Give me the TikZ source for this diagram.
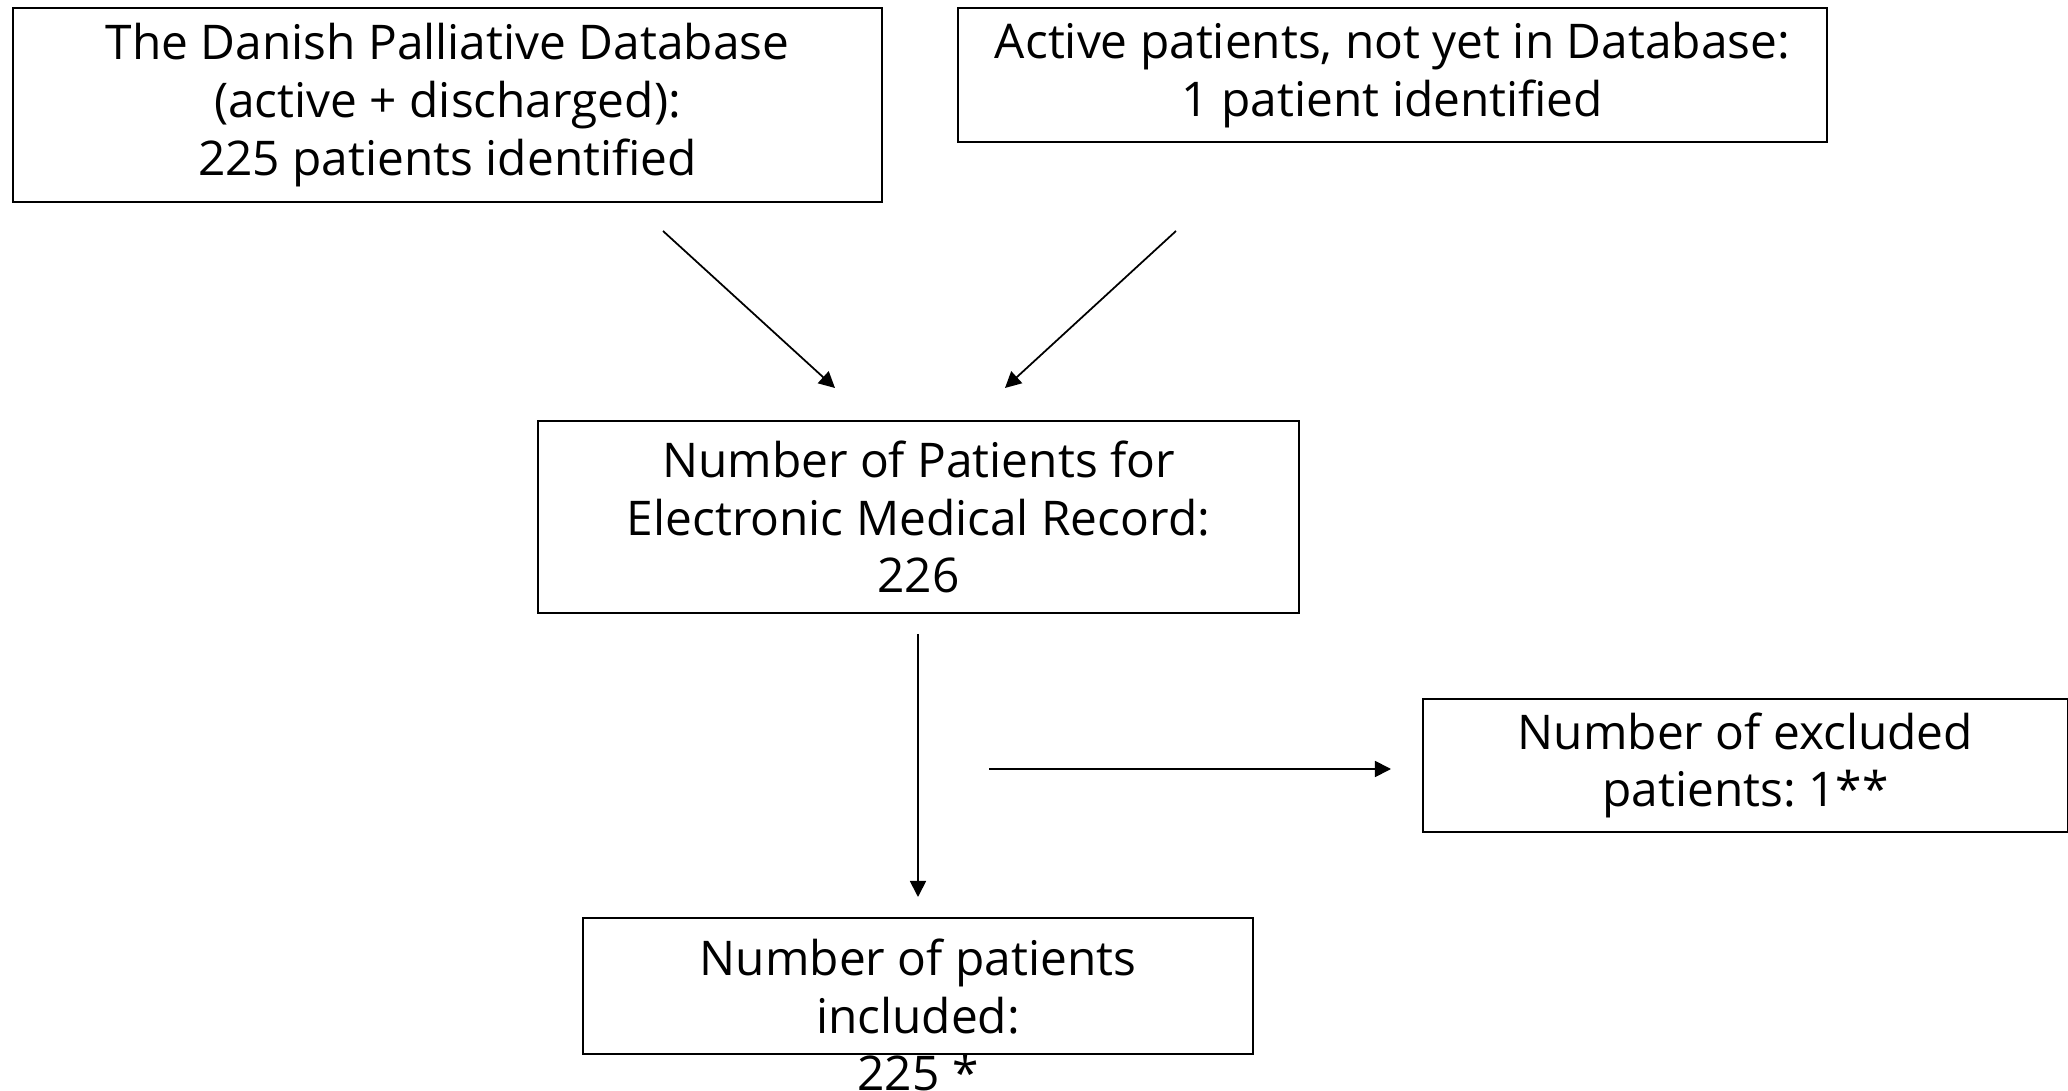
\documentclass[tikz,border=0pt]{standalone}
\usepackage{fontspec}
\setmainfont{Open Sans}
\frenchspacing
\usetikzlibrary{arrows.meta}
\begin{document}
\begin{tikzpicture}[x=0.01cm,y=-0.01cm,
	box/.style={draw,line width=0.6pt,inner sep=0pt,align=center,font=\fontsize{13.6}{16.4}\selectfont},
	txt/.style={inner sep=0pt,align=center,font=\fontsize{13.6}{16.4}\selectfont},
	flow/.style={line width=0.5pt,-{Triangle[length=0.16cm,width=0.16cm]}}]
	
	\useasboundingbox (0,0) rectangle (2068,1091);
	
	\node[box,minimum width=8.69cm,minimum height=1.94cm] (db) at (447.5,105) {The Danish Palliative Database\\(active + discharged):\\225 patients identified};
	\node[box,minimum width=8.69cm,minimum height=1.34cm] (active) at (1392.5,75) {Active patients, not yet in Database:\\1 patient identified};
	\node[box,minimum width=7.61cm,minimum height=1.92cm] (emr) at (918.5,517) {Number of Patients for\\Electronic Medical Record:\\226};
	\node[box,minimum width=6.45cm,minimum height=1.33cm] (excl) at (1745.5,765.5) {Number of excluded\\patients: 1**};
	\node[box,minimum width=6.70cm,minimum height=1.36cm] (incl) at (918,986) {};
	\node[txt] (incltxt) at (918,1015) {Number of patients\\included:\\225 *};
	
	\coordinate (a1s) at (663,231);
	\coordinate (a1e) at (835,388);
	\coordinate (a2s) at (1176,231);
	\coordinate (a2e) at (1005,388);
	\coordinate (a3s) at (918,634);
	\coordinate (a3e) at (918,897);
	\coordinate (a4s) at (989,769);
	\coordinate (a4e) at (1391,769);
	
	\draw[flow] (a1s)--(a1e);
	\draw[flow] (a2s)--(a2e);
	\draw[flow] (a3s)--(a3e);
	\draw[flow] (a4s)--(a4e);
	
\end{tikzpicture}
\end{document}
